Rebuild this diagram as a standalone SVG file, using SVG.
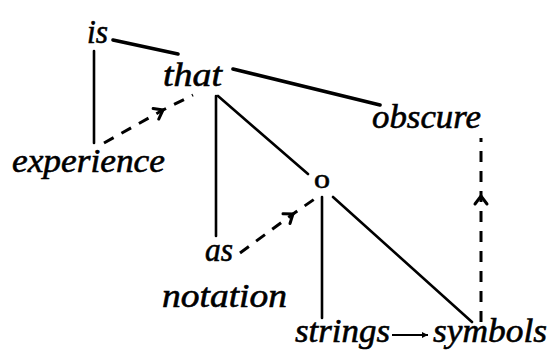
<svg xmlns="http://www.w3.org/2000/svg" width="549" height="362" viewBox="0 0 549 362">
<style>
text{font-family:"Liberation Serif","Times New Roman",serif;font-style:italic;font-size:34px;fill:#000;stroke:#000;stroke-width:0.6}
.s{stroke:#000;stroke-width:2.6;fill:none;stroke-linecap:round}
.t{stroke:#000;stroke-width:3.6;fill:none;stroke-linecap:round}
.d{stroke:#000;stroke-width:3;fill:none;stroke-dasharray:11 9}
</style>
<defs>
<marker id="ah" markerUnits="userSpaceOnUse" markerWidth="24" markerHeight="24" viewBox="-12 -12 24 24" refX="0" refY="0" orient="auto">
<path d="M-8,-6 L0,0 L-8,6" stroke="#000" stroke-width="3" fill="none" stroke-linecap="round"/>
</marker>
<marker id="sh" markerUnits="userSpaceOnUse" markerWidth="14" markerHeight="14" viewBox="-7 -7 14 14" refX="0" refY="0" orient="auto">
<path d="M-6,-3 L0,0 L-6,3 Z" fill="#000"/>
</marker>
</defs>
<g id="connectors">
<line class="t" x1="113" y1="40" x2="178" y2="54"/>
<line class="s" x1="94" y1="51" x2="94" y2="143"/>
<path class="d" d="M104,143 L163,110 L193,95" marker-mid="url(#ah)"/>
<line class="t" x1="233" y1="69" x2="380" y2="105"/>
<line class="s" x1="216" y1="96" x2="216" y2="236"/>
<line class="s" x1="218" y1="96" x2="308" y2="174"/>
<path class="d" d="M240,253 L293,214 L316,198" marker-mid="url(#ah)"/>
<line class="s" x1="322" y1="197" x2="322" y2="318"/>
<line class="s" x1="333" y1="197" x2="472" y2="322"/>
<path class="d" d="M481,322 L481,196 L481,138" marker-mid="url(#ah)"/>
<line x1="392" y1="335" x2="428" y2="335" stroke="#000" stroke-width="2" marker-end="url(#sh)"/>
</g>
<g id="n-is"><text x="87" y="43" textLength="21" lengthAdjust="spacingAndGlyphs">is</text></g>
<g id="n-that"><text x="163" y="86" textLength="59" lengthAdjust="spacingAndGlyphs">that</text></g>
<g id="n-experience"><text x="12" y="172" textLength="153" lengthAdjust="spacingAndGlyphs">experience</text></g>
<g id="n-obscure"><text x="372" y="128" textLength="109" lengthAdjust="spacingAndGlyphs">obscure</text></g>
<g id="n-o"><text x="314" y="188" textLength="16" lengthAdjust="spacingAndGlyphs" style="font-style:normal;font-size:28px">o</text></g>
<g id="n-as"><text x="205" y="261" textLength="28" lengthAdjust="spacingAndGlyphs">as</text></g>
<g id="n-notation"><text x="162" y="307" textLength="125" lengthAdjust="spacingAndGlyphs">notation</text></g>
<g id="n-strings"><text x="295" y="342" textLength="95" lengthAdjust="spacingAndGlyphs">strings</text></g>
<g id="n-symbols"><text x="433" y="342" textLength="114" lengthAdjust="spacingAndGlyphs">symbols</text></g>
</svg>
